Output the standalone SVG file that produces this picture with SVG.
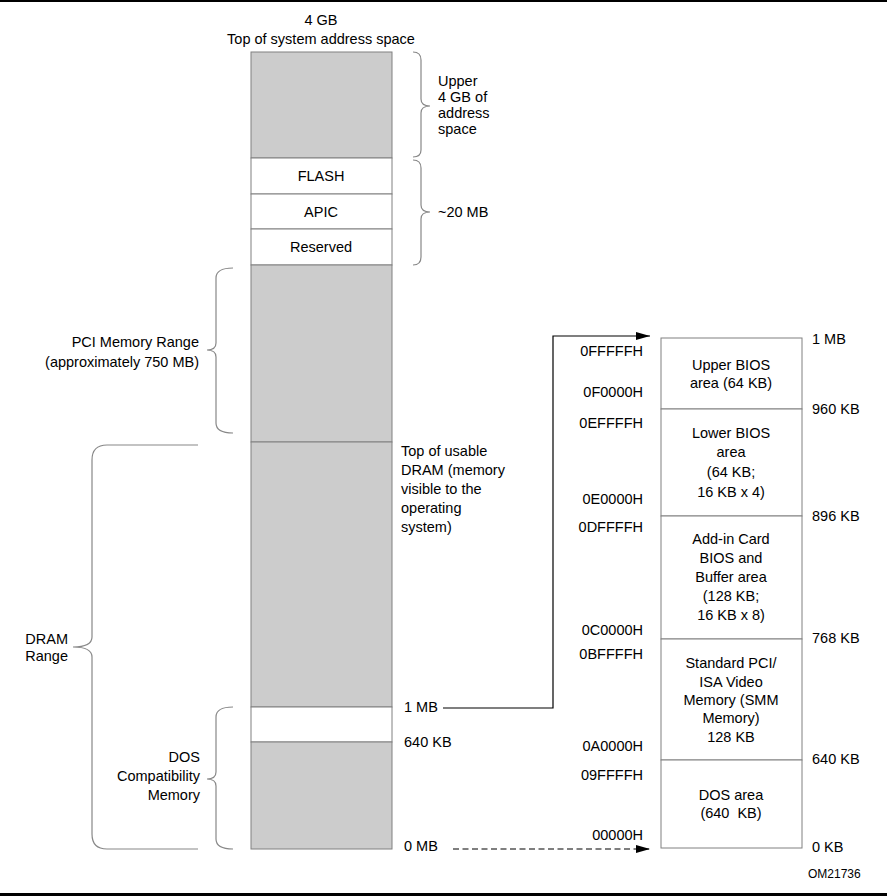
<svg xmlns="http://www.w3.org/2000/svg" width="887" height="896" viewBox="0 0 887 896">
<defs>
<style>
text{font-family:"Liberation Sans",Arial,sans-serif;font-size:14.5px;fill:#000}
.c{text-anchor:middle}
.r{text-anchor:end}
.g{fill:#cccccc;stroke:#808080;stroke-width:1}
.w{fill:#ffffff;stroke:#808080;stroke-width:1}
.br{fill:none;stroke:#888888;stroke-width:1.2}
.ln{fill:none;stroke:#000;stroke-width:1.2}
.small{font-size:12px}
.pre{white-space:pre}
</style>
<marker id="ah" viewBox="0 0 14 8" refX="14" refY="4" markerWidth="14" markerHeight="8" markerUnits="userSpaceOnUse" orient="auto">
<path d="M0,0 L14,4 L0,8 Z" fill="#000"/>
</marker>
</defs>
<rect x="0" y="0" width="887" height="896" fill="#fff"/>
<line x1="0" y1="1" x2="887" y2="1" stroke="#000" stroke-width="2"/>
<line x1="0" y1="894.5" x2="887" y2="894.5" stroke="#000" stroke-width="3"/>

<g id="title">
<text class="c" x="321" y="25">4 GB</text>
<text class="c" x="321" y="44">Top of system address space</text>
</g>

<g id="system-map">
<rect id="upper-gray" class="g" x="251" y="52" width="141" height="106"/>
<g id="flash"><rect class="w" x="251" y="158" width="141" height="36"/><text class="c" x="321" y="181">FLASH</text></g>
<g id="apic"><rect class="w" x="251" y="194" width="141" height="35"/><text class="c" x="321" y="217">APIC</text></g>
<g id="reserved"><rect class="w" x="251" y="229" width="141" height="36"/><text class="c" x="321" y="252">Reserved</text></g>
<rect id="pci-range" class="g" x="251" y="265" width="141" height="177"/>
<rect id="dram" class="g" x="251" y="442" width="141" height="265"/>
<rect id="dos-white" class="w" x="251" y="707" width="141" height="35"/>
<rect id="dos-gray" class="g" x="251" y="742" width="141" height="107"/>
</g>

<g id="braces">
<path class="br" d="M413,52 Q421,52 421,60 L421,99 Q421,106 430,106 Q421,106 421,113 L421,150 Q421,157 413,157"/>
<path class="br" d="M413,160 Q421,160 421,168 L421,205 Q421,212 430,212 Q421,212 421,219 L421,257 Q421,265 413,265"/>
<path class="br" d="M233,268 Q216,268 216,278 L216,343 Q216,350 207,350 Q216,350 216,357 L216,423 Q216,433 233,433"/>
<path class="br" d="M198,445 L107,445 Q92,445 92,460 L92,637 Q92,647 73,647 Q92,647 92,657 L92,834 Q92,849 107,849 L198,849"/>
<path class="br" d="M233,707 Q216,707 216,717 L216,772 Q216,779 207,779 Q216,779 216,786 L216,839 Q216,849 233,849"/>
</g>

<g id="labels-left">
<text x="438" y="86">Upper</text>
<text x="438" y="102">4 GB of</text>
<text x="438" y="118">address</text>
<text x="438" y="134">space</text>
<text x="438" y="217">~20 MB</text>
<text class="r" x="199" y="347">PCI Memory Range</text>
<text class="r" x="199" y="367">(approximately 750 MB)</text>
<text x="401" y="456">Top of usable</text>
<text x="401" y="475">DRAM (memory</text>
<text x="401" y="494">visible to the</text>
<text x="401" y="513">operating</text>
<text x="401" y="532">system)</text>
<text class="r" x="68" y="644">DRAM</text>
<text class="r" x="68" y="661">Range</text>
<text class="r" x="200" y="762">DOS</text>
<text class="r" x="200" y="781">Compatibility</text>
<text class="r" x="200" y="800">Memory</text>
<text x="404" y="712">1 MB</text>
<text x="404" y="747">640 KB</text>
<text x="404" y="851">0 MB</text>
</g>

<g id="connectors">
<polyline class="ln" points="443,708 553,708 553,336 650,336" marker-end="url(#ah)"/>
<line class="ln" x1="453" y1="849" x2="650" y2="849" stroke-dasharray="6,3.5" marker-end="url(#ah)"/>
</g>

<g id="dos-map">
<g id="upper-bios"><rect class="w" x="661" y="338" width="141" height="71"/>
<text class="c" x="731" y="370">Upper BIOS</text><text class="c" x="731" y="388">area (64 KB)</text></g>
<g id="lower-bios"><rect class="w" x="661" y="409" width="141" height="107"/>
<text class="c" x="731" y="438">Lower BIOS</text><text class="c" x="731" y="457">area</text><text class="c" x="731" y="477">(64 KB;</text><text class="c" x="731" y="497">16 KB x 4)</text></g>
<g id="addin-card"><rect class="w" x="661" y="516" width="141" height="123"/>
<text class="c" x="731" y="544">Add-in Card</text><text class="c" x="731" y="563">BIOS and</text><text class="c" x="731" y="582">Buffer area</text><text class="c" x="731" y="601">(128 KB;</text><text class="c" x="731" y="620">16 KB x 8)</text></g>
<g id="video-mem"><rect class="w" x="661" y="639" width="141" height="121"/>
<text class="c" x="731" y="668">Standard PCI/</text><text class="c" x="731" y="687">ISA Video</text><text class="c" x="731" y="705">Memory (SMM</text><text class="c" x="731" y="723">Memory)</text><text class="c" x="731" y="742">128 KB</text></g>
<g id="dos-area"><rect class="w" x="661" y="760" width="141" height="88"/>
<text class="c" x="731" y="800">DOS area</text><text class="c pre" x="731" y="818" xml:space="preserve">(640  KB)</text></g>
</g>

<g id="hex-labels">
<text class="r" x="643" y="356">0FFFFFH</text>
<text class="r" x="643" y="397">0F0000H</text>
<text class="r" x="643" y="428">0EFFFFH</text>
<text class="r" x="643" y="504">0E0000H</text>
<text class="r" x="643" y="532">0DFFFFH</text>
<text class="r" x="643" y="635">0C0000H</text>
<text class="r" x="643" y="659">0BFFFFH</text>
<text class="r" x="643" y="751">0A0000H</text>
<text class="r" x="643" y="780">09FFFFH</text>
<text class="r" x="643" y="840">00000H</text>
</g>

<g id="size-labels">
<text x="812" y="344">1 MB</text>
<text x="812" y="414">960 KB</text>
<text x="812" y="521">896 KB</text>
<text x="812" y="643">768 KB</text>
<text x="812" y="764">640 KB</text>
<text x="812" y="852">0 KB</text>
<text class="small" x="808" y="878">OM21736</text>
</g>
</svg>
